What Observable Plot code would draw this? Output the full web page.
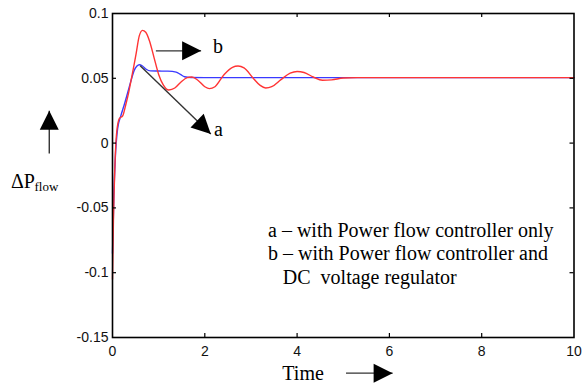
<!DOCTYPE html>
<html>
<head>
<meta charset="utf-8">
<script src="https://cdn.jsdelivr.net/npm/d3@7"></script>
<script src="https://cdn.jsdelivr.net/npm/@observablehq/plot@0.6"></script>
<style>
  html, body { margin: 0; padding: 0; background: #fff; }
  #chart svg { display: block; }
</style>
</head>
<body>
<div id="chart"></div>
<script>
// ---- data ----
const xTicks = [0, 2, 4, 6, 8, 10];
const yTicks = [-0.15, -0.1, -0.05, 0, 0.05, 0.1];

// curve a : with power flow controller only (blue)
const aTime = [0, 0.03, 0.06, 0.11, 0.18, 0.25, 0.33, 0.40, 0.47, 0.53, 0.58, 0.65, 0.73, 0.82, 1.0, 1.2, 1.38, 1.47, 1.56, 1.7, 2.0, 10];
const aVal  = [-0.085, -0.04, -0.012, 0.011, 0.021, 0.029, 0.039, 0.048, 0.056, 0.0595, 0.0605, 0.0595, 0.057, 0.0557, 0.0556, 0.0555, 0.0548, 0.053, 0.0512, 0.0506, 0.0505, 0.0505];

// curve b : with power flow controller and DC voltage regulator (red)
const bTime = [0, 0.02, 0.05, 0.09, 0.15, 0.22, 0.29, 0.35, 0.40, 0.46, 0.51, 0.58, 0.65, 0.72, 0.80, 0.90, 1.0, 1.1, 1.22, 1.35, 1.48, 1.62, 1.72, 1.85, 2.0, 2.1, 2.22, 2.42, 2.6, 2.72, 2.85, 3.05, 3.2, 3.32, 3.45, 3.65, 3.85, 4.0, 4.15, 4.35, 4.55, 4.75, 5.0, 5.3, 6.0, 10];
const bVal  = [-0.105, -0.06, -0.02, 0.008, 0.019, 0.021, 0.030, 0.039, 0.048, 0.059, 0.0686, 0.0827, 0.087, 0.0855, 0.079, 0.066, 0.053, 0.045, 0.041, 0.0425, 0.047, 0.0505, 0.051, 0.0485, 0.0435, 0.042, 0.0435, 0.053, 0.0585, 0.0595, 0.058, 0.050, 0.0445, 0.0425, 0.0435, 0.049, 0.054, 0.0553, 0.0545, 0.051, 0.0485, 0.0488, 0.0502, 0.0505, 0.0505, 0.0505];

// annotations (data units)
const arrowFromT = [0.94, 0.60, 5.06, -1.37];
const arrowFromV = [0.0712, 0.0596, -0.1775, -0.0081];
const arrowToT   = [1.92, 2.13, 6.07, -1.37];
const arrowToV   = [0.0712, 0.0071, -0.1775, 0.025];

const labelText = ["b", "a", "Time"];
const labelT    = [2.18, 2.20, 3.68];
const labelV    = [0.0742, 0.0101, -0.178];

const legendLines = ["a \u2013 with Power flow controller only", "b \u2013 with Power flow controller and", "DC\u00a0 voltage regulator"];
const legendT     = [3.37, 3.37, 3.69];
const legendV     = [-0.0677, -0.0852, -0.1036];

const yLabelMain = "\u0394P", yLabelSub = "flow";
const yLabelT = [-2.20, -1.69];
const yLabelV = [-0.0296, -0.0335];

// ---- build ----
const W = 582, H = 387;
const mL = 112, mR = 8.5, mT = 13, mB = 50;
const plotW = W - mL - mR, plotH = H - mT - mB;
const xDomain = [0, 10], yDomain = [-0.15, 0.1];
const pxPerT = plotW / (xDomain[1] - xDomain[0]);
const pxPerV = plotH / (yDomain[1] - yDomain[0]);

const aData = aTime.map((t, i) => ({t, v: aVal[i]}));
const bData = bTime.map((t, i) => ({t, v: bVal[i]}));
const arrows = arrowFromT.map((t, i) => {
  const dx = (arrowToT[i] - t) * pxPerT;
  const dy = -(arrowToV[i] - arrowFromV[i]) * pxPerV;
  return {x1: t, y1: arrowFromV[i], x2: arrowToT[i], y2: arrowToV[i],
          rot: 90 + Math.atan2(dy, dx) * 180 / Math.PI};
});
const labels = labelText.map((s, i) => ({s, t: labelT[i], v: labelV[i]}));
const legend = legendLines.map((s, i) => ({s, t: legendT[i], v: legendV[i]}));

const head = {
  draw(ctx) {
    ctx.moveTo(0, 0);
    ctx.lineTo(-9.5, 19);
    ctx.lineTo(9.5, 19);
    ctx.closePath();
  }
};

const serif = "'Liberation Serif', 'Times New Roman', serif";
const sans = "'Liberation Sans', Arial, Helvetica, sans-serif";
const innerX = xTicks.slice(1, -1);
const innerY = yTicks.slice(1, -1);

const chart = Plot.plot({
  width: W, height: H,
  marginLeft: mL, marginRight: mR, marginTop: mT, marginBottom: mB,
  x: {domain: xDomain},
  y: {domain: yDomain},
  style: {fontFamily: sans, background: "#fff", overflow: "visible"},
  marks: [
    Plot.line(aData, {x: "t", y: "v", stroke: "#3a3aff", strokeWidth: 1.4, curve: "monotone-x"}),
    Plot.line(bData, {x: "t", y: "v", stroke: "#ff3434", strokeWidth: 1.4, curve: "monotone-x"}),
    Plot.frame({stroke: "#000", strokeWidth: 1.6}),
    Plot.ruleX(innerX, {stroke: "#000", strokeWidth: 1.2, insetTop: plotH - 4}),
    Plot.ruleX(innerX, {stroke: "#000", strokeWidth: 1.2, insetBottom: plotH - 4}),
    Plot.ruleY(innerY, {stroke: "#000", strokeWidth: 1.2, insetRight: plotW - 4}),
    Plot.ruleY(innerY, {stroke: "#000", strokeWidth: 1.2, insetLeft: plotW - 4}),
    Plot.axisX({ticks: xTicks, tickSize: 0, tickPadding: 9, fontSize: 14, label: null, tickFormat: d => String(d), fill: "#111"}),
    Plot.axisY({ticks: yTicks, tickSize: 0, tickPadding: 4, fontSize: 14, label: null, tickFormat: d => String(d), fill: "#111"}),
    Plot.link(arrows, {x1: "x1", y1: "y1", x2: "x2", y2: "y2", stroke: "#333", strokeWidth: 1.4}),
    Plot.dot(arrows, {x: "x2", y: "y2", rotate: "rot", symbol: head, fill: "#000", stroke: "none", r: 5}),
    Plot.text(labels, {x: "t", y: "v", text: "s", textAnchor: "start", fontSize: 20, fontFamily: serif, fill: "#000"}),
    Plot.text(legend, {x: "t", y: "v", text: "s", textAnchor: "start", fontSize: 20, fontFamily: serif, fill: "#000"}),
    Plot.text([yLabelMain], {x: () => yLabelT[0], y: () => yLabelV[0], text: d => d, textAnchor: "start", fontSize: 20, fontFamily: serif, fill: "#000"}),
    Plot.text([yLabelSub], {x: () => yLabelT[1], y: () => yLabelV[1], text: d => d, textAnchor: "start", fontSize: 13, fontFamily: serif, fill: "#000"})
  ]
});
document.getElementById("chart").appendChild(chart);
</script>
</body>
</html>
